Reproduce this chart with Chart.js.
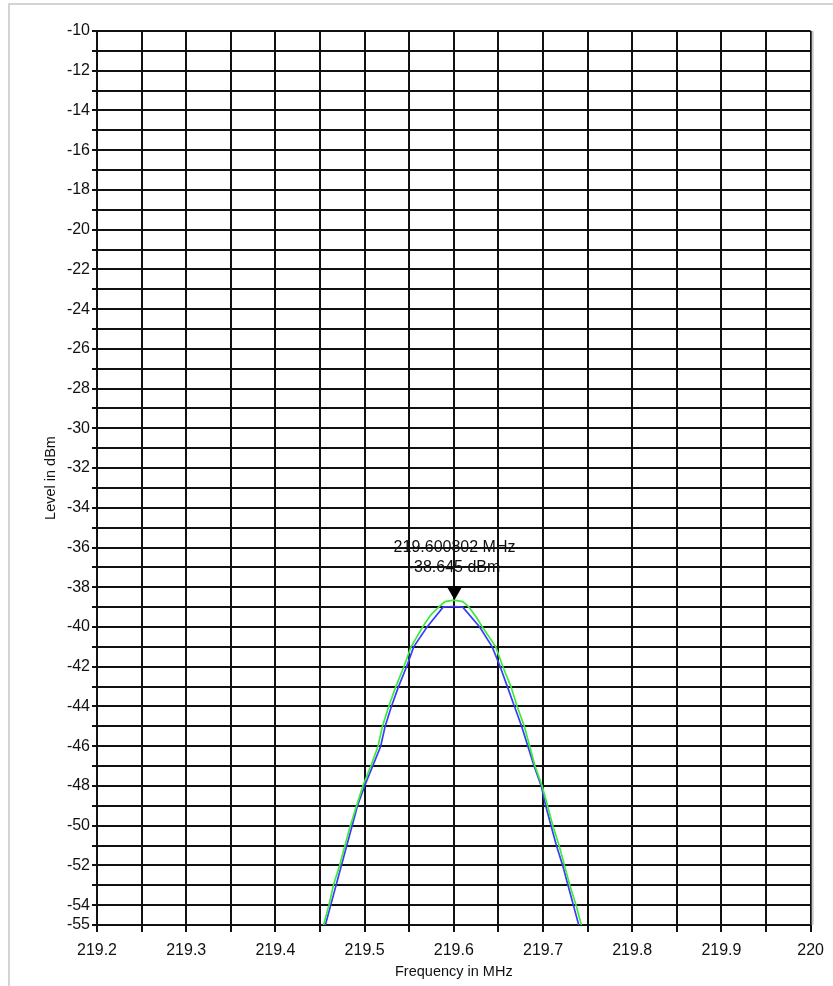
<!DOCTYPE html>
<html>
<head>
<meta charset="utf-8">
<title>Spectrum</title>
<script src="https://cdn.jsdelivr.net/npm/chart.js@4.4.1/dist/chart.umd.min.js"></script>
<style>
  html, body { margin: 0; padding: 0; background: #fff; }
  #wrap { position: relative; width: 833px; height: 986px; overflow: hidden; }
  #frame {
    position: absolute; left: 8px; top: 3px; right: -4px; bottom: -4px;
    border-top: 2px solid #d4d4d4; border-left: 2px solid #d4d4d4;
  }
  #spectrum { position: absolute; left: 0; top: 0; }
</style>
</head>
<body>
<div id="wrap">
  <div id="frame"></div>
  <canvas id="spectrum" width="833" height="986"></canvas>
</div>
<script>
// trace 1 (green)
const trace1Freq = [219.454, 219.460, 219.465, 219.472, 219.478, 219.484, 219.491, 219.498, 219.507,
  219.515, 219.520, 219.527, 219.535, 219.544, 219.552, 219.565, 219.574, 219.583, 219.590, 219.600,
  219.610, 219.617, 219.625, 219.632, 219.647, 219.655, 219.664, 219.671, 219.679, 219.685, 219.691,
  219.699, 219.705, 219.711, 219.718, 219.724, 219.730, 219.737, 219.743];
const trace1Level = [-55, -54, -53, -52, -51, -50, -49, -48, -47,
  -46, -45, -44, -43, -42, -41, -40, -39.4, -39, -38.72, -38.645,
  -38.72, -39, -39.5, -40, -41, -42, -43, -44, -45, -46, -47,
  -48, -49, -50, -51, -52, -53, -54, -55];

// trace 2 (blue)
const trace2Freq = [219.456, 219.462, 219.468, 219.474, 219.480, 219.486, 219.492, 219.500, 219.509,
  219.518, 219.523, 219.530, 219.538, 219.547, 219.555, 219.570, 219.588, 219.594, 219.600, 219.605,
  219.610, 219.629, 219.643, 219.652, 219.660, 219.668, 219.676, 219.683, 219.690, 219.698, 219.703,
  219.709, 219.715, 219.722, 219.728, 219.734, 219.740];
const trace2Level = [-55, -54, -53, -52, -51, -50, -49, -48, -47,
  -46, -45, -44, -43, -42, -41, -40, -39, -38.98, -38.97, -38.98,
  -39, -40, -41, -42, -43, -44, -45, -46, -47, -48, -49,
  -50, -51, -52, -53, -54, -55];

// peak marker
const markerFreq = 219.600802;
const markerLevel = -38.645;

const xTickLabels = ['219.2', '219.3', '219.4', '219.5', '219.6', '219.7', '219.8', '219.9', '220'];
const yTickLabels = [-10, -12, -14, -16, -18, -20, -22, -24, -26, -28, -30, -32, -34, -36, -38,
  -40, -42, -44, -46, -48, -50, -52, -54, -55];

const FONT = 'Liberation Sans, Arial, sans-serif';

function points(xs, ys) {
  return xs.map((x, i) => ({ x: x, y: ys[i] }));
}

const markerPlugin = {
  id: 'peakMarker',
  afterDatasetsDraw(chart) {
    const ctx = chart.ctx;
    const area = chart.chartArea;
    const px = chart.scales.x.getPixelForValue(markerFreq);
    const py = chart.scales.y.getPixelForValue(markerLevel);

    ctx.save();
    // faint edge on the right of the plot
    ctx.strokeStyle = '#c8c8c8';
    ctx.lineWidth = 2;
    ctx.beginPath();
    ctx.moveTo(area.right + 2, area.top);
    ctx.lineTo(area.right + 2, area.bottom);
    ctx.stroke();

    ctx.fillStyle = '#000';
    ctx.beginPath();
    ctx.moveTo(px - 8, py - 14);
    ctx.lineTo(px + 8, py - 14);
    ctx.lineTo(px, py);
    ctx.closePath();
    ctx.fill();

    ctx.font = '16px ' + FONT;
    ctx.textAlign = 'center';
    ctx.textBaseline = 'middle';
    ctx.fillStyle = '#111';
    ctx.fillText(markerFreq.toFixed(6) + ' MHz', px, py - 52);
    ctx.fillText(markerLevel.toFixed(3) + ' dBm', px, py - 32);
    ctx.restore();
  }
};

new Chart(document.getElementById('spectrum'), {
  type: 'scatter',
  data: {
    datasets: [
      {
        label: 'Trace 1',
        data: points(trace1Freq, trace1Level),
        showLine: true,
        borderColor: 'rgb(60, 235, 60)',
        borderWidth: 1.7,
        pointRadius: 0,
        tension: 0
      },
      {
        label: 'Trace 2',
        data: points(trace2Freq, trace2Level),
        showLine: true,
        borderColor: 'rgb(60, 60, 250)',
        borderWidth: 1.7,
        pointRadius: 0,
        tension: 0
      }
    ]
  },
  options: {
    responsive: false,
    animation: false,
    events: [],
    layout: { padding: { left: 0, right: 21, top: 31, bottom: 0 } },
    plugins: {
      legend: { display: false },
      tooltip: { enabled: false }
    },
    scales: {
      x: {
        type: 'linear',
        min: 219.2,
        max: 220,
        afterBuildTicks(scale) {
          const ticks = [];
          for (let k = 0; k <= 16; k++) {
            ticks.push({ value: Math.round((219.2 + k * 0.05) * 100) / 100 });
          }
          scale.ticks = ticks;
        },
        afterFit(scale) { scale.height = 61; },
        ticks: {
          autoSkip: false,
          maxRotation: 0,
          padding: 9,
          color: '#111',
          font: { family: FONT, size: 16 },
          callback(value) {
            const s = String(Math.round(value * 100) / 100);
            return xTickLabels.includes(s) ? s : '';
          }
        },
        grid: { color: '#111', lineWidth: 2, tickLength: 7, tickColor: '#111' },
        border: { display: true, color: '#111', width: 2 },
        title: {
          display: true,
          text: 'Frequency in MHz',
          color: '#111',
          font: { family: FONT, size: 14.5 },
          padding: { top: 0, bottom: 5 }
        }
      },
      y: {
        type: 'linear',
        min: -55,
        max: -10,
        afterBuildTicks(scale) {
          const ticks = [];
          for (let v = -55; v <= -10; v++) ticks.push({ value: v });
          scale.ticks = ticks;
        },
        afterFit(scale) { scale.width = 97; },
        ticks: {
          autoSkip: false,
          padding: 2,
          color: '#111',
          font: { family: FONT, size: 16 },
          callback(value) {
            return yTickLabels.includes(value) ? String(value) : '';
          }
        },
        grid: { color: '#111', lineWidth: 2, tickLength: 5, tickColor: '#111' },
        border: { display: true, color: '#111', width: 2 },
        title: {
          display: true,
          text: 'Level in dBm',
          color: '#111',
          font: { family: FONT, size: 14.5 },
          padding: { top: 42, bottom: 0 }
        }
      }
    }
  },
  plugins: [markerPlugin]
});
</script>
</body>
</html>
